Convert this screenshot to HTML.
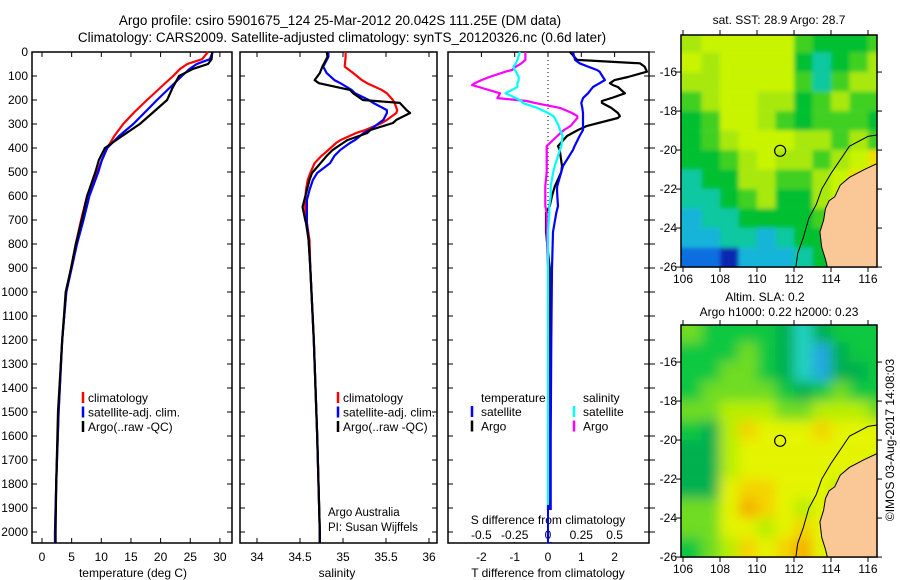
<!DOCTYPE html>
<html><head><meta charset="utf-8"><style>
html,body{margin:0;padding:0;background:#fff;overflow:hidden;}
svg{display:block;font-family:"Liberation Sans",sans-serif;}
text{fill:#000;}
</style></head><body>
<svg id="chart" width="900" height="580" viewBox="0 0 900 580" xmlns="http://www.w3.org/2000/svg">
<defs>
<filter id="blurA" x="-5%" y="-5%" width="110%" height="110%"><feGaussianBlur stdDeviation="2"/></filter>
<filter id="blurB" x="-5%" y="-5%" width="110%" height="110%"><feGaussianBlur stdDeviation="6"/></filter>
</defs>
<text x="340" y="25" font-size="13.5" text-anchor="middle">Argo profile: csiro 5901675_124 25-Mar-2012 20.042S 111.25E (DM data)</text>
<text x="342" y="42" font-size="13.5" text-anchor="middle">Climatology: CARS2009. Satellite-adjusted climatology: synTS_20120326.nc (0.6d later)</text>
<g id="g"></g>
</svg>
<script>
// ---- data ----
const tDepth = [0,30,50,70,100,150,200,250,300,350,400,450,500,600,700,800,900,1000,1200,1500,1800,2000,2046];
const tClim  = [28.0,27.0,24.5,23.3,22.1,19.9,17.7,15.6,13.7,12.2,11.0,10.1,9.3,7.6,6.6,5.7,4.9,4.1,3.4,2.8,2.4,2.2,2.2];
const tSat   = [28.8,28.3,26.1,24.9,23.6,21.5,19.4,17.4,15.4,13.0,11.0,10.1,9.5,8.0,7.0,5.9,5.0,4.1,3.4,2.8,2.4,2.2,2.2];
const tArgo  = [28.7,28.6,28.0,25.5,23.1,22.0,21.1,18.8,16.5,13.5,10.6,9.6,9.0,7.6,6.7,5.7,4.9,4.0,3.4,2.7,2.4,2.3,2.3];

const sDepth = [0,20,61,88,117,130,158,172,200,212,242,254,283,296,325,338,367,379,408,433,463,504,533,575,617,646,700,712,783,900,1200,1600,2000,2046];
const sClim  = [35.03,35.03,35.02,35.12,35.22,35.28,35.45,35.51,35.58,35.60,35.63,35.62,35.51,35.45,35.26,35.15,34.97,34.92,34.83,34.75,34.67,34.62,34.59,34.57,34.56,34.56,34.57,34.58,34.61,34.62,34.66,34.70,34.73,34.73];
const sSat   = [34.83,34.83,34.77,34.81,34.90,34.97,35.10,35.14,35.30,35.35,35.51,35.51,35.47,35.42,35.31,35.24,35.14,35.08,34.97,34.90,34.85,34.70,34.65,34.61,34.58,34.58,34.58,34.58,34.60,34.62,34.66,34.70,34.73,34.73];
const sArgo  = [34.81,34.82,34.76,34.73,34.67,34.72,35.08,35.12,35.23,35.66,35.74,35.78,35.62,35.58,35.32,35.28,35.05,35.00,34.88,34.81,34.74,34.64,34.61,34.58,34.55,34.53,34.56,34.57,34.60,34.62,34.66,34.70,34.73,34.73];

const dDepth = [0,33,47,61,75,82,104,117,130,138,146,172,192,204,212,233,254,267,275,308,325,350,392,408,475,500,558,571,600,642,670,750,900,1200,1600,2000,2046];
const dTArgo = [0.66,0.87,2.76,2.90,2.95,2.97,2.40,2.00,1.86,1.95,2.10,2.31,1.90,1.62,1.62,1.90,2.10,2.16,2.10,1.17,0.90,0.57,0.30,0.35,0.42,0.40,0.21,0.18,0.12,0.05,-0.06,-0.06,0.05,0.05,0.05,0.06,0.06];
const dTSat  = [0.75,0.81,0.95,1.20,1.47,1.55,1.65,1.71,1.55,1.45,1.35,1.20,1.05,1.02,1.00,1.03,1.05,1.05,1.05,1.05,1.05,0.95,0.80,0.75,0.45,0.40,0.28,0.27,0.28,0.30,0.25,0.15,0.12,0.10,0.08,0.08,0.08];
const dSArgo = [-0.17,-0.17,-0.20,-0.24,-0.27,-0.32,-0.44,-0.50,-0.55,-0.57,-0.52,-0.36,-0.38,-0.16,-0.10,0.09,0.18,0.22,0.22,0.17,0.12,0.07,-0.01,-0.01,-0.01,-0.01,-0.02,-0.02,-0.02,-0.02,-0.01,-0.01,0.00,0.00,0.00,0.00,0.00];
const dSSat  = [-0.21,-0.23,-0.24,-0.26,-0.25,-0.24,-0.22,-0.22,-0.23,-0.23,-0.23,-0.32,-0.24,-0.20,-0.19,-0.08,0.00,0.04,0.05,0.08,0.09,0.11,0.10,0.09,0.05,0.04,0.02,0.02,0.02,0.01,0.01,0.00,0.00,0.00,0.00,0.00,0.00];

const depthTicks = [0,100,200,300,400,500,600,700,800,900,1000,1100,1200,1300,1400,1500,1600,1700,1800,1900,2000];
const tempTicks = [0,5,10,15,20,25,30];
const salTicks = [34,34.5,35,35.5,36];
const salTickLabels = ["34","34.5","35","35.5","36"];
const tdTicks = [-2,-1,0,1,2];
const sdTicks = [-0.5,-0.25,0,0.25,0.5];
const sdTickLabels = ["-0.5","-0.25","0","0.25","0.5"];

const lonTicks = [106,108,110,112,114,116];
const latTicks = [-16,-18,-20,-22,-24,-26];
const sstGrid = [
[6,7,7,7,7,7,5,4,4,4,5],
[7,6,7,7,7,7,4,3,4,5,6],
[6,6,7,7,7,7,5,3,5,6,6],
[5,6,7,7,6,6,4,5,6,5,5],
[4,5,7,7,6,5,4,5,5,5,4],
[4,5,6,7,7,7,6,6,5,6,5],
[4,4,5,6,7,6,6,5,6,7,8],
[3,4,4,6,6,5,5,6,7,8,8],
[3,3,4,5,6,4,4,6,7,5,5],
[2,3,3,4,4,4,4,5,5,5,5],
[2,2,3,3,2,3,4,4,5,5,5],
[1,1,0,2,2,2,3,4,5,5,5]];
const slaGrid = [
[4,3,3,3,3,2,1,2,3,3,3],
[3,3,3,4,3,2,1,0,2,3,3],
[3,3,4,4,3,2,1,0,2,2,3],
[3,4,4,4,4,3,2,3,4,3,3],
[4,4,5,5,5,4,4,5,5,5,4],
[3,2,5,7,6,6,6,7,6,6,6],
[2,2,5,6,6,6,6,6,6,6,6],
[2,2,5,6,6,6,6,6,6,6,5],
[2,2,6,7,7,6,6,6,5,5,5],
[4,4,6,8,7,6,5,6,5,5,5],
[4,4,6,6,5,6,7,6,5,5,5],
[3,4,5,7,6,7,8,6,5,5,5]];
const sstColors = ["#0828b0","#0a6ee0","#18b4d8","#10c8a0","#00c030","#40d020","#a8e810","#c8f400","#f0e000"];
const slaColors = ["#20a8e0","#20d0c0","#00b050","#10c840","#70dc20","#b8ee00","#e4f400","#f4d400","#f4b000"];
const landLon = [116.7,115.8,115.0,114.5,114.2,113.9,113.7,113.6,113.4,113.5,113.7,113.8,116.7];
const landLat = [-20.6,-21.0,-21.4,-21.8,-22.4,-22.6,-23.0,-23.6,-24.2,-25.0,-25.6,-26.0,-26.0];
const isoLon = [116.7,116.0,115.0,114.5,114.0,113.5,113.2,112.8,112.5,112.2,112.1];
const isoLat = [-19.2,-19.3,-19.8,-20.5,-21.2,-22.0,-22.8,-23.5,-24.5,-25.3,-26.0];

// ---- helpers ----
const NS="http://www.w3.org/2000/svg";
const G=document.getElementById('g');
function mk(tag,attrs,parent){const e=document.createElementNS(NS,tag);for(const k in attrs)e.setAttribute(k,attrs[k]);(parent||G).appendChild(e);return e;}
function txt(x,y,s,size,anchor,parent){const e=mk('text',{x:x,y:y,'font-size':size,'text-anchor':anchor||'middle'},parent);e.textContent=s;return e;}
const Y=d=>52+0.24*d;
const TOP=52,BOT=543;
const xT=t=>42+5.93*t;
const xS=s=>257+86*(s-34);
const xTD=v=>548+33.3*v;
const xSD=v=>548+133.2*v;

function frame(x0,x1,name){const r=mk('rect',{x:x0,y:TOP,width:x1-x0,height:BOT-TOP,fill:'none',stroke:'#000','stroke-width':1.5});


depthTicks.forEach(d=>{mk('line',{x1:x0,x2:x0+5,y1:Y(d),y2:Y(d),stroke:'#000'});mk('line',{x1:x1,x2:x1-5,y1:Y(d),y2:Y(d),stroke:'#000'});});}
function line(xs,ds,fx,color,name){const pts=xs.map((v,i)=>fx(v).toFixed(1)+','+Y(ds[i]).toFixed(1)).join(' ');
const p=mk('polyline',{points:pts,fill:'none',stroke:color,'stroke-width':2.2,'stroke-linejoin':'round'});

}

// panel 1
frame(32,232,'temperature-panel');
depthTicks.forEach(d=>{const t=txt(28,Y(d)+4,String(d),12,'end');

});
tempTicks.forEach(v=>{mk('line',{x1:xT(v),x2:xT(v),y1:TOP,y2:TOP+5,stroke:'#000'});mk('line',{x1:xT(v),x2:xT(v),y1:BOT,y2:BOT-5,stroke:'#000'});
const t=txt(xT(v),561,String(v),12);

});
const t1=txt(133,577,'temperature (deg C)',12);


line(tClim,tDepth,xT,'#f00','temp-climatology-line');
line(tSat,tDepth,xT,'#00f','temp-satellite-line');
line(tArgo,tDepth,xT,'#000','temp-argo-line');

// panel 2
frame(240,437,'salinity-panel');
salTicks.forEach((v,i)=>{mk('line',{x1:xS(v),x2:xS(v),y1:TOP,y2:TOP+5,stroke:'#000'});mk('line',{x1:xS(v),x2:xS(v),y1:BOT,y2:BOT-5,stroke:'#000'});
const t=txt(xS(v),561,salTickLabels[i],12);

});
const t2=txt(337,577,'salinity',12);


line(sClim,sDepth,xS,'#f00','sal-climatology-line');
line(sSat,sDepth,xS,'#00f','sal-satellite-line');
line(sArgo,sDepth,xS,'#000','sal-argo-line');
txt(328,516,'Argo Australia',11.5,'start');
txt(328,531,'PI: Susan Wijffels',11.5,'start');

// legends
function legend(x,entries,name){const lg=mk('g',{});


entries.forEach((e,i)=>{const y=398+i*14.5;mk('line',{x1:x,x2:x,y1:y-6,y2:y+5,stroke:e[0],'stroke-width':2.5},lg);txt(x+5,y+4,e[1],12,'start',lg);});}
legend(83,[['#f00','climatology'],['#00f','satellite-adj. clim.'],['#000','Argo(..raw -QC)']],'temperature-legend');
legend(338,[['#f00','climatology'],['#00f','satellite-adj. clim.'],['#000','Argo(..raw -QC)']],'salinity-legend');

// panel 3
frame(448,649,'difference-panel');
mk('line',{x1:548,x2:548,y1:TOP,y2:BOT,stroke:'#000','stroke-dasharray':'1,3'});
sdTicks.forEach(v=>mk('line',{x1:xSD(v),x2:xSD(v),y1:TOP,y2:TOP+5,stroke:'#000'}));
tdTicks.forEach(v=>{mk('line',{x1:xTD(v),x2:xTD(v),y1:BOT,y2:BOT-5,stroke:'#000'});
const t=txt(xTD(v),561,v<0?'-'+Math.abs(v):String(v),12);

});
const t3=txt(548,577,'T difference from climatology',12);


line(dTArgo,dDepth,xTD,'#000','t-diff-argo-line');
line(dTSat,dDepth,xTD,'#00f','t-diff-satellite-line');
line(dSArgo,dDepth,xSD,'#f0f','s-diff-argo-line');
line(dSSat,dDepth,xSD,'#0ff','s-diff-satellite-line');
mk('rect',{x:462,y:510,width:180,height:32,fill:'#fff'});
const t4=txt(548,524,'S difference from climatology',12);


sdTicks.forEach((v,i)=>{const t=txt(xSD(v),539,sdTickLabels[i],12);

});
mk('line',{x1:548,x2:548,y1:505,y2:BOT,stroke:'#00f','stroke-width':2});
txt(481,402,'temperature',12,'start');txt(583,402,'salinity',12,'start');
[['#00f','satellite',0],['#000','Argo',1]].forEach(e=>{const y=412+e[2]*14.5;mk('line',{x1:472,x2:472,y1:y-6,y2:y+5,stroke:e[0],'stroke-width':2.5});txt(481,y+4,e[1],12,'start');});
[['#0ff','satellite',0],['#f0f','Argo',1]].forEach(e=>{const y=412+e[2]*14.5;mk('line',{x1:574,x2:574,y1:y-6,y2:y+5,stroke:e[0],'stroke-width':2.5});txt(583,y+4,e[1],12,'start');});
for(let d=0;d<=2000;d+=100){mk('line',{x1:649,x2:655,y1:Y(d),y2:Y(d),stroke:'#000'});}

// maps
function map(y0,latTop,grid,colors,name,blur){
const x0=681,x1=877,y1=y0+19.5*(26+latTop);
const fx=lon=>683+18.5*(lon-106);
const fy=lat=>y1-19.5*(lat+26);
const g=mk('g',{});


const clip='c'+y0;const cp=mk('clipPath',{id:clip},g);mk('rect',{x:x0,y:y0,width:x1-x0,height:y1-y0},cp);
const inner=mk('g',{'clip-path':'url(#'+clip+')'},g);
const cells=mk('g',{filter:'url(#'+blur+')'},inner);
const nr=grid.length,nc=grid[0].length;
grid.forEach((row,r)=>row.forEach((v,c)=>{
let x=fx(106+c),w=18.6,y=fy(-14-r),h=19.6;
if(c===0){x-=15;w+=15;} if(c===nc-1){w+=15;}
if(r===0){y-=15;h+=15;} if(r===nr-1){h+=15;}
const cell=mk('rect',{x:x,y:y,width:w,height:h,fill:colors[v]},cells);

}));
mk('polygon',{points:landLon.map((l,i)=>fx(l)+','+fy(landLat[i])).join(' '),fill:'#fac896',stroke:'#000','stroke-width':1},inner);
mk('polyline',{points:isoLon.map((l,i)=>fx(l)+','+fy(isoLat[i])).join(' '),fill:'none',stroke:'#000','stroke-width':1},inner);
mk('rect',{x:x0,y:y0,width:x1-x0,height:y1-y0,fill:'none',stroke:'#000','stroke-width':1.5},g);
const c=mk('circle',{cx:fx(111.25),cy:fy(-20.04),r:5.5,fill:'none',stroke:'#000','stroke-width':1.2},g);


lonTicks.forEach(l=>{mk('line',{x1:fx(l),x2:fx(l),y1:y0,y2:y0-5,stroke:'#000'},g);mk('line',{x1:fx(l),x2:fx(l),y1:y1,y2:y1+5,stroke:'#000'},g);txt(fx(l),y1+16,String(l),12,'middle',g);});
latTicks.forEach(l=>{mk('line',{x1:x0,x2:x0-5,y1:fy(l),y2:fy(l),stroke:'#000'},g);mk('line',{x1:x1,x2:x1+5,y1:fy(l),y2:fy(l),stroke:'#000'},g);txt(677,fy(l)+4,String(l),12,'end',g);});
}
map(35,-14.1,sstGrid,sstColors,'sst-map','blurA');
map(325,-14.1,slaGrid,slaColors,'sla-map','blurB');
txt(779,24,'sat. SST: 28.9  Argo: 28.7',12);
txt(765,301,'Altim. SLA: 0.2',12);
txt(779,316,'Argo h1000: 0.22 h2000: 0.23',12);
const ct=txt(0,0,'©IMOS 03-Aug-2017 14:08:03',12,'middle');
ct.setAttribute('transform','translate(894,440) rotate(-90)');


</script>
</body></html>
